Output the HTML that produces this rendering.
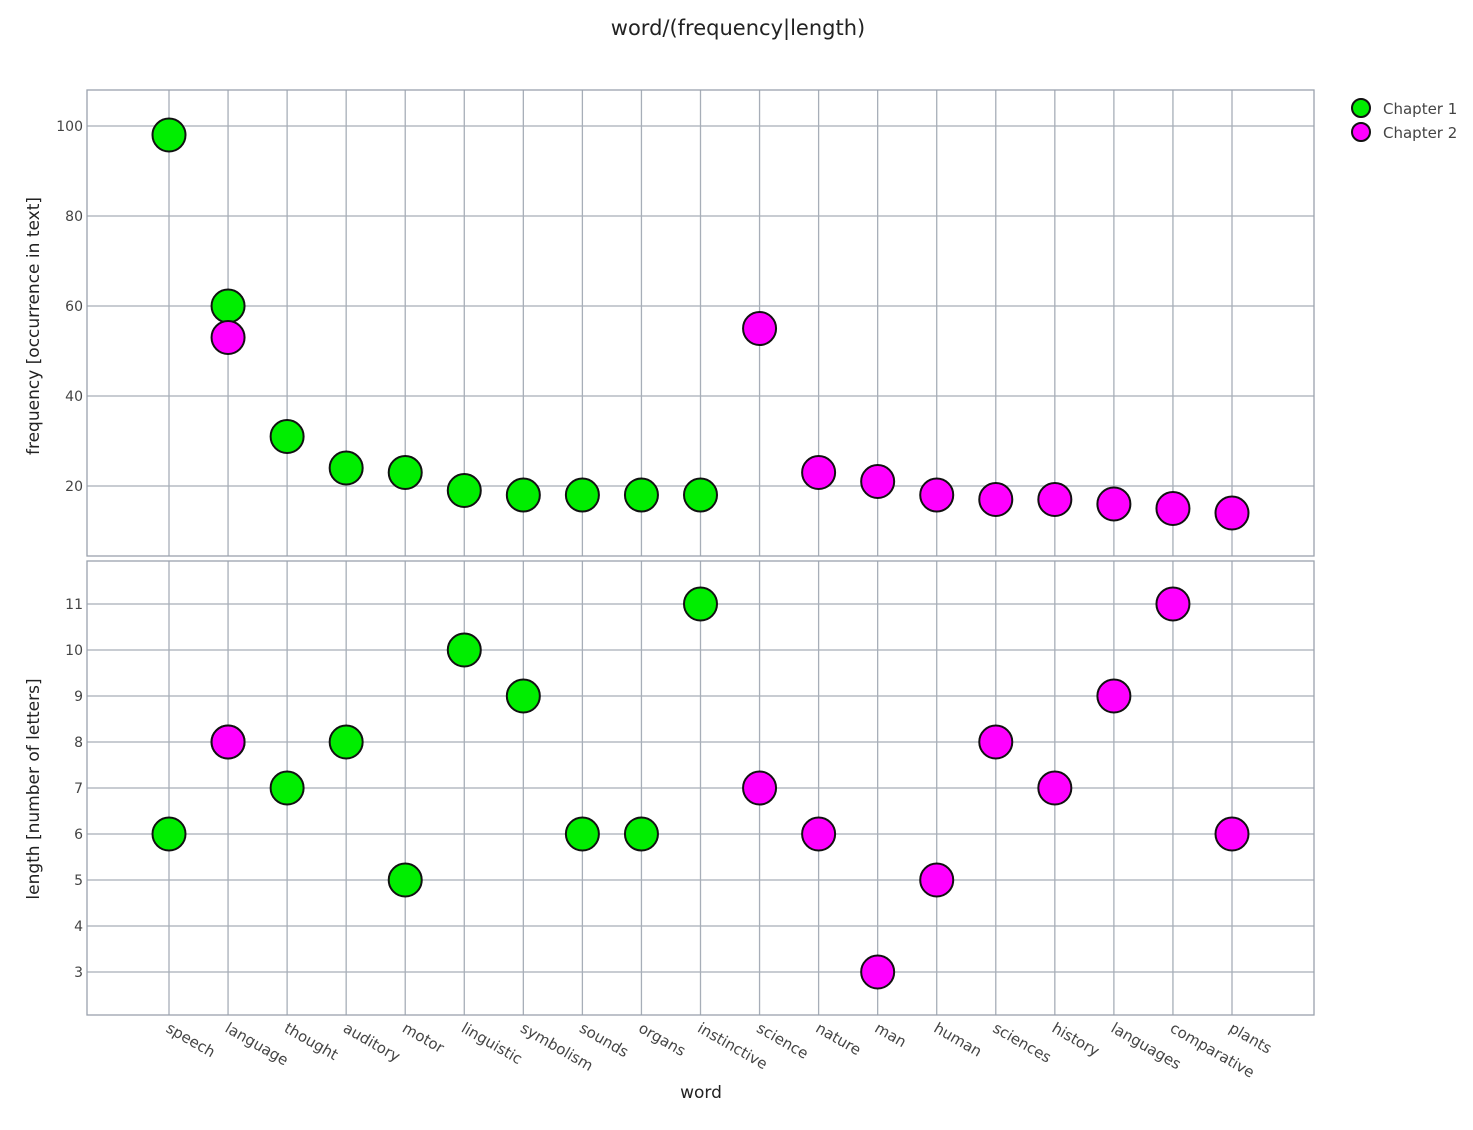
<!DOCTYPE html>
<html><head><meta charset="utf-8"><style>
body{margin:0;background:#fff;font-family:"Liberation Sans","DejaVu Sans",sans-serif;}
svg text{font-family:"DejaVu Sans","Liberation Sans",sans-serif;fill:#444;}
</style></head><body>
<svg id="c" width="1473" height="1125" xmlns="http://www.w3.org/2000/svg">
<text x="738" y="35" text-anchor="middle" font-size="21" style="fill:#222">word/(frequency|length)</text>
<g id="legend">
<circle cx="1361" cy="108" r="9" fill="#00ee00" stroke="#111" stroke-width="2"/>
<text x="1383" y="114" font-size="15">Chapter 1</text>
<circle cx="1361" cy="132" r="9" fill="#ff00ff" stroke="#111" stroke-width="2"/>
<text x="1383" y="138" font-size="15">Chapter 2</text>
</g>
<text transform="translate(39,326) rotate(-90)" text-anchor="middle" font-size="17" style="fill:#222">frequency [occurrence in text]</text>
<text transform="translate(39,789) rotate(-90)" text-anchor="middle" font-size="17" style="fill:#222">length [number of letters]</text>
<text x="701" y="1098" text-anchor="middle" font-size="17" style="fill:#222">word</text>
</svg>
<script>
const categories=["speech","language","thought","auditory","motor","linguistic","symbolism","sounds","organs","instinctive","science","nature","man","human","sciences","history","languages","comparative","plants"];
const ch1Words=["speech","language","thought","auditory","motor","linguistic","symbolism","sounds","organs","instinctive"];
const ch1Freq=[98,60,31,24,23,19,18,18,18,18];
const ch1Len=[6,8,7,8,5,10,9,6,6,11];
const ch2Words=["language","science","nature","man","human","sciences","history","languages","comparative","plants"];
const ch2Freq=[53,55,23,21,18,17,17,16,15,14];
const ch2Len=[8,7,6,3,5,8,7,9,11,6];
const freqTicks=[20,40,60,80,100];
const lenTicks=[3,4,5,6,7,8,9,10,11];

const NS="http://www.w3.org/2000/svg";
const svg=document.getElementById('c');
function mk(t,a,p){const e=document.createElementNS(NS,t);for(const k in a)e.setAttribute(k,a[k]);(p||svg).appendChild(e);return e;}
const L=87,R=1314;
const xS=c=>169+categories.indexOf(c)*(1232-169)/(categories.length-1);
const p1={top:90,bot:556,y:v=>576-v*4.5};
const p2={top:561,bot:1015,y:v=>1110-v*46};
const grid="#a7aeb8";
[p1,p2].forEach((p,i)=>{
  const g=mk('g',{});
  
  
  categories.forEach(c=>{const l=mk('line',{x1:xS(c),x2:xS(c),y1:p.top,y2:p.bot,stroke:grid,'stroke-width':1.3},g);
    });
  (i?lenTicks:freqTicks).forEach(v=>{
    const y=p.y(v);
    const l=mk('line',{x1:L,x2:R,y1:y,y2:y,stroke:grid,'stroke-width':1.3},g);
    
    const t=mk('text',{x:L-4,y:y+5,'text-anchor':'end','font-size':14},g);t.textContent=v;
    
  });
  const r=mk('rect',{x:L,y:p.top,width:R-L,height:p.bot-p.top,fill:'none',stroke:'#9aa2ad','stroke-width':1.3},g);
  
});
categories.forEach(c=>{
  const x=xS(c);
  const t=mk('text',{transform:`translate(${x-4},${1031}) rotate(30)`,'font-size':15});
  t.textContent=c;
  
  
});
function pts(words,vals,p,col,name){
  words.forEach((w,i)=>{
    const c=mk('circle',{cx:xS(w),cy:p.y(vals[i]),r:16.5,fill:col,stroke:'#111','stroke-width':2});
    
    
  });
}
pts(ch1Words,ch1Freq,p1,'#00ee00','ch1-frequency-point');
pts(ch2Words,ch2Freq,p1,'#ff00ff','ch2-frequency-point');
pts(ch1Words,ch1Len,p2,'#00ee00','ch1-length-point');
pts(ch2Words,ch2Len,p2,'#ff00ff','ch2-length-point');
</script>
</body></html>
